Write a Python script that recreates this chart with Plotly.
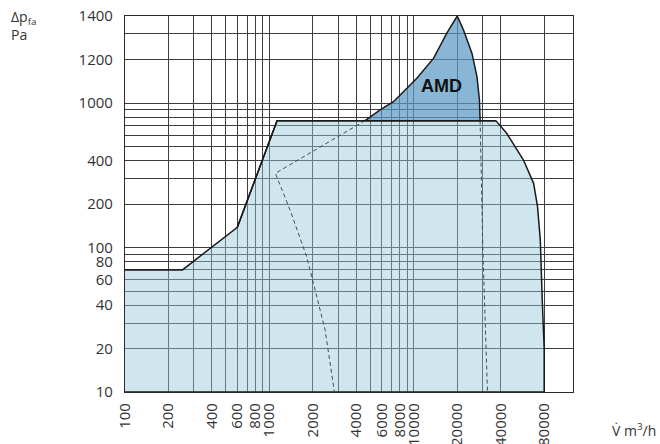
import numpy as np
import plotly.graph_objects as go

# ---------------- data (V in m3/h, dp in Pa) ----------------
fan_v = [100, 250, 600, 1130, 37000, 44000, 57500, 67600, 72000, 75200, 77600, 80000, 80000, 100]
fan_p = [70, 70, 138, 755, 755, 617, 403, 278, 191, 113, 43, 20, 10, 10]

amd_v = [4600, 5850, 7230, 10500, 13700, 16900, 20000, 22100, 25300, 27400, 28500, 28800]
amd_p = [755, 895, 1006, 1114, 1205, 1320, 1400, 1336, 1228, 1121, 1014, 755]

dash_left_v = [4600, 1100, 1390, 1815, 2430, 2820]
dash_left_p = [755, 326, 182, 86, 27, 10]

dash_right_v = [28800, 30100, 32400]
dash_right_p = [755, 96, 10]

x_tick_vals = [100, 200, 400, 600, 800, 1000, 2000, 4000, 6000, 8000, 10000, 20000, 40000, 80000]
x_minor_vals = [300, 500, 700, 900, 3000, 5000, 7000, 9000, 30000]
y_tick_vals = [10, 20, 40, 60, 80, 100, 200, 400, 1000, 1200, 1400]
y_minor_vals = [30, 50, 70, 90, 300, 500, 600, 700, 800, 900, 1320]

label_v, label_p = 15500, 1078

# ------------- axis mapping: log up to 1000 Pa, stretched above -------------
K = np.log10(4) / 400.0


def ax(p):
    p = np.asarray(p, dtype=float)
    return np.where(p <= 1000, p, 10 ** (3 + (p - 1000) * K))


fig = go.Figure()

fig.add_trace(go.Scatter(
    x=fan_v, y=ax(fan_p), mode="lines", fill="toself",
    fillcolor="rgba(150,200,220,0.45)",
    line=dict(color="#1a1a1a", width=1.5), hoverinfo="skip", showlegend=False))

fig.add_trace(go.Scatter(
    x=amd_v, y=ax(amd_p), mode="lines", fill="toself",
    fillcolor="rgba(92,154,196,0.72)",
    line=dict(color="#1a1a1a", width=1.5), hoverinfo="skip", showlegend=False))

for xv, pv in [(dash_left_v, dash_left_p), (dash_right_v, dash_right_p)]:
    fig.add_trace(go.Scatter(
        x=xv, y=ax(pv), mode="lines",
        line=dict(color="#4a4a4a", width=1, dash="4px,3px"),
        hoverinfo="skip", showlegend=False))

# redraw fan top edge so it sits over the AMD fill
fig.add_trace(go.Scatter(
    x=fan_v[2:5], y=ax(fan_p[2:5]), mode="lines",
    line=dict(color="#1a1a1a", width=1.5), hoverinfo="skip", showlegend=False))

font_family = "'Open Sans', 'DejaVu Sans', sans-serif"
text_col = "#333333"
grid_col = "#3c3c3c"

fig.update_xaxes(
    type="log", range=[2, np.log10(126700)], automargin=False,
    tickvals=x_tick_vals, ticktext=[str(v) for v in x_tick_vals],
    tickangle=-90, ticks="outside", ticklen=4, tickcolor="rgba(0,0,0,0)",
    tickfont=dict(family=font_family, size=15, color=text_col),
    showgrid=True, gridcolor=grid_col, gridwidth=1,
    minor=dict(tickvals=x_minor_vals, showgrid=True, gridcolor=grid_col, gridwidth=1, ticks=""),
    showline=True, linecolor="#2a2a2a", linewidth=1.2, mirror=True, zeroline=False)

fig.update_yaxes(
    type="log", range=[1, float(np.log10(ax(1400)))], automargin=False,
    tickvals=ax(y_tick_vals), ticktext=[str(v) for v in y_tick_vals],
    ticks="outside", ticklen=8, tickcolor="rgba(0,0,0,0)",
    tickfont=dict(family=font_family, size=15, color=text_col),
    showgrid=True, gridcolor=grid_col, gridwidth=1,
    minor=dict(tickvals=ax(y_minor_vals), showgrid=True, gridcolor=grid_col, gridwidth=1, ticks=""),
    showline=True, linecolor="#2a2a2a", linewidth=1.2, mirror=True, zeroline=False)

fig.add_annotation(x=np.log10(label_v), y=float(np.log10(ax(label_p))), xref="x", yref="y",
                   text="<b>AMD</b>", showarrow=False,
                   font=dict(family="'Liberation Sans', Arial, sans-serif", size=18, color="#111"))

fig.add_annotation(x=-0.26, y=1.03, xref="paper", yref="paper", xanchor="left", yanchor="top",
                   align="left", showarrow=False,
                   text="Δp<sub>fa</sub><br>Pa",
                   font=dict(family=font_family, size=14, color=text_col))

fig.add_annotation(x=1.19, y=-0.10, xref="paper", yref="paper", xanchor="right", yanchor="middle",
                   showarrow=False, text="V̇ m<sup>3</sup>/h",
                   font=dict(family=font_family, size=14, color=text_col))

fig.update_layout(
    width=660, height=444,
    margin=dict(l=125, r=87, t=16, b=52, autoexpand=False),
    paper_bgcolor="white", plot_bgcolor="white",
    showlegend=False)

fig.write_html(
    "out.html",
    config={"responsive": False, "displayModeBar": False},
    post_script="document.body.style.margin='0';document.body.style.overflow='hidden';")
